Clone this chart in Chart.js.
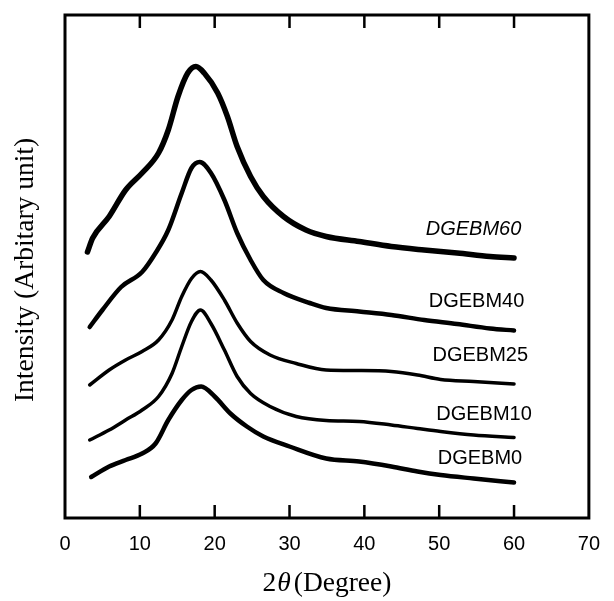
<!DOCTYPE html>
<html><head><meta charset="utf-8">
<script src="https://cdn.jsdelivr.net/npm/chart.js@4"></script>
<style>html,body{margin:0;padding:0;background:#fff}</style>
</head><body>
<canvas id="c" width="614" height="601" style="display:block;width:614px;height:601px"></canvas>
<script>
// ---- data (2θ in degrees, intensity in arbitrary units) ----
const xTickValues = [0,10,20,30,40,50,60,70];
const innerTickValues = [10,20,30,40,50,60];

const seriesNames = ['DGEBM60','DGEBM40','DGEBM25','DGEBM10','DGEBM0'];

const angle60 = [3.0,3.7,5.9,8.1,10.3,12.5,13.8,15.1,16.4,17.5,18.6,20.4,21.7,23.0,24.8,26.5,29.2,32.2,34.9,39.3,43.6,48.0,52.4,56.8,60.0];
const int60   = [532,560,603,656,690,730,776,843,890,903,890,850,803,743,683,643,603,576,563,553,543,536,530,523,520];

const angle40 = [3.3,5.0,7.5,10.3,12.1,13.8,15.6,16.9,18.0,19.5,21.3,23.0,24.8,26.5,29.2,32.7,34.9,39.3,43.6,48.0,52.4,56.8,60.0];
const int40   = [382,416,462,492,530,576,650,700,712,690,636,570,516,476,450,430,420,413,406,396,388,379,375];

const angle25 = [3.3,5.9,8.1,10.3,12.5,14.3,15.6,16.9,18.1,19.5,21.3,23.0,24.8,27.4,30.9,34.9,39.3,43.6,47.1,50.2,54.6,60.0];
const int25   = [266,296,316,333,356,396,443,479,493,476,436,390,353,326,309,296,295,293,286,277,273,268];

const angle10 = [3.3,5.9,8.1,10.3,12.5,14.3,15.6,16.9,18.1,19.5,21.3,23.0,24.8,27.4,30.9,34.9,39.3,43.6,47.1,50.2,54.6,60.0];
const int10   = [156,176,196,216,243,289,343,393,416,389,336,283,249,223,203,195,193,186,179,173,166,161];

const angle0 = [3.5,5.9,8.1,10.3,12.1,13.8,15.6,16.9,18.2,20.0,22.1,24.3,26.5,30.0,34.9,39.3,43.6,47.1,50.2,54.6,60.0];
const int0   = [82,103,116,129,149,196,236,256,263,243,209,183,163,143,119,113,103,93,86,79,71];

const labelAngle = [48.2,48.6,49.1,49.6,49.8];
const labelIntensity = [578,433,326,208,120];
const labelItalic = [true,false,false,false,false];

const xTitleParts = ['2','θ','(Degree)'];
const yTitle = 'Intensity (Arbitary unit)';

// ---- build ----
const angles = [angle60,angle40,angle25,angle10,angle0];
const intensities = [int60,int40,int25,int10,int0];
const widths = [5.5,4.5,3.5,3.5,4.5];

const datasets = seriesNames.map((n,i)=>({
  label:n,
  data: angles[i].map((a,j)=>({x:a,y:intensities[i][j]})),
  borderColor:'#000',
  borderWidth:widths[i],
  pointRadius:0,
  fill:false,
  cubicInterpolationMode:'monotone',
  borderJoinStyle:'round',
  borderCapStyle:'round'
}));

const deco = {
  id:'deco',
  afterDraw(chart){
    const ctx = chart.ctx, a = chart.chartArea;
    const xs = chart.scales.x, ys = chart.scales.y;
    ctx.save();
    ctx.strokeStyle='#000';
    ctx.lineWidth=3;
    ctx.strokeRect(a.left,a.top,a.right-a.left,a.bottom-a.top);
    ctx.lineWidth=2.5;
    innerTickValues.forEach(v=>{
      const px = xs.getPixelForValue(v);
      ctx.beginPath();
      ctx.moveTo(px,a.bottom); ctx.lineTo(px,a.bottom-13);
      ctx.moveTo(px,a.top); ctx.lineTo(px,a.top+13);
      ctx.stroke();
    });
    ctx.fillStyle='#000';
    ctx.textAlign='left';
    ctx.textBaseline='middle';
    seriesNames.forEach((n,i)=>{
      ctx.font=(labelItalic[i]?'italic ':'')+'20px "Liberation Sans", Arial, sans-serif';
      ctx.fillText(n, xs.getPixelForValue(labelAngle[i]), ys.getPixelForValue(labelIntensity[i]));
    });
    // x title
    const fReg='27.5px "Liberation Serif", "Times New Roman", serif';
    const fIt='italic 27.5px "Liberation Serif", "Times New Roman", serif';
    const fonts=[fReg,fIt,fReg];
    const gaps=[1,3,0];
    let total=0;
    xTitleParts.forEach((t,i)=>{ctx.font=fonts[i]; total+=ctx.measureText(t).width+gaps[i];});
    let cx=(a.left+a.right)/2 - total/2;
    ctx.textBaseline='alphabetic';
    xTitleParts.forEach((t,i)=>{ctx.font=fonts[i]; ctx.fillText(t,cx,591); cx+=ctx.measureText(t).width+gaps[i];});
    // y title
    ctx.translate(26,270);
    ctx.rotate(-Math.PI/2);
    ctx.font=fReg;
    ctx.textAlign='center';
    ctx.textBaseline='middle';
    ctx.fillText(yTitle,0,0);
    ctx.restore();
  }
};

new Chart(document.getElementById('c'),{
  type:'line',
  data:{datasets},
  options:{
    responsive:false,
    animation:false,
    devicePixelRatio:1,
    layout:{padding:{top:15,right:17,left:0,bottom:0}},
    plugins:{legend:{display:false},tooltip:{enabled:false}},
    scales:{
      x:{
        type:'linear',min:0,max:70,
        afterBuildTicks(s){ s.ticks = xTickValues.map(v=>({value:v})); },
        afterFit(s){ s.height=83; },
        grid:{display:false,drawTicks:false},
        border:{display:false},
        ticks:{color:'#000',padding:14,maxRotation:0,font:{size:20,family:'"Liberation Sans", Arial, sans-serif'}}
      },
      y:{
        type:'linear',min:0,max:1006,
        afterFit(s){ s.width=65; },
        grid:{display:false,drawTicks:false},
        border:{display:false},
        ticks:{display:false}
      }
    }
  },
  plugins:[deco]
});
</script>
</body></html>
